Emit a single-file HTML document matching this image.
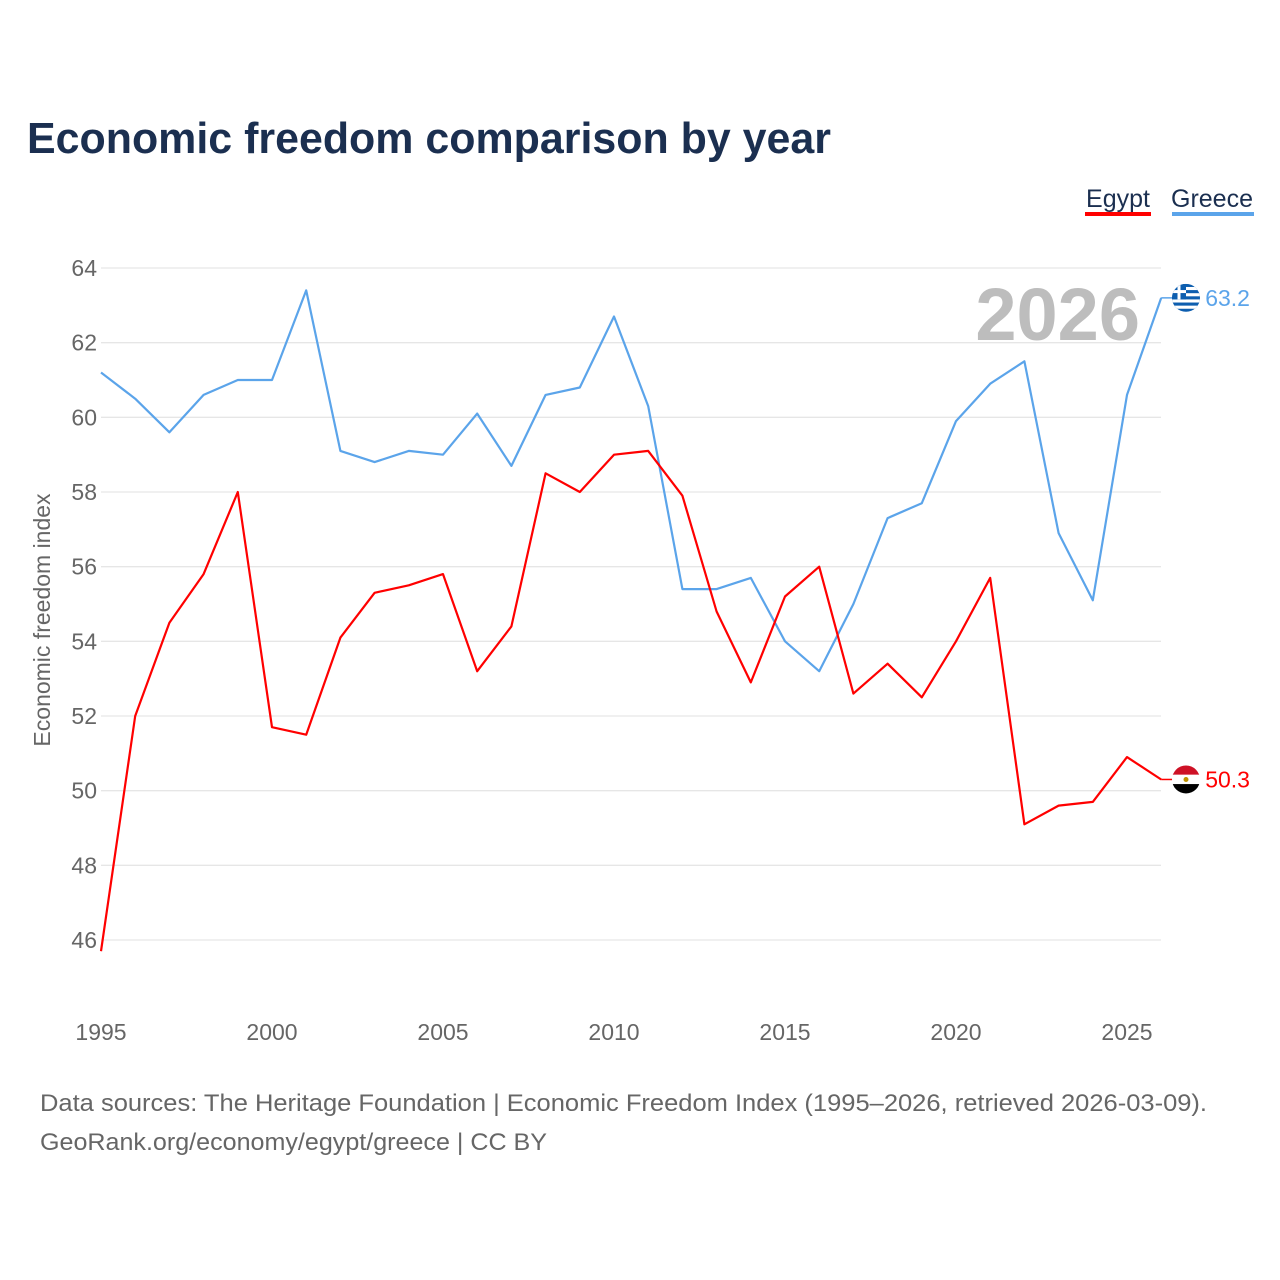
<!DOCTYPE html>
<html><head><meta charset="utf-8">
<style>
body{margin:0;background:#fff;font-family:"Liberation Sans",sans-serif;}
svg{display:block}
</style></head>
<body>
<svg id="chart" width="1280" height="1280" viewBox="0 0 1280 1280" xmlns="http://www.w3.org/2000/svg">
<defs>
<clipPath id="cg"><circle cx="1186" cy="298" r="14"/></clipPath>
<clipPath id="ce"><circle cx="1186" cy="779" r="14"/></clipPath>
</defs>
<text x="27" y="153" font-size="44" font-weight="bold" fill="#1b2f50" textLength="804" lengthAdjust="spacingAndGlyphs">Economic freedom comparison by year</text>
<g>
<g><text x="1118" y="207" font-size="25" fill="#1b2f50" text-anchor="middle">Egypt</text><rect x="1085" y="212" width="66" height="4" fill="#ff0000"/></g>
<g><text x="1212" y="207" font-size="25" fill="#1b2f50" text-anchor="middle">Greece</text><rect x="1172" y="212" width="82" height="4" fill="#5ba4ea"/></g>
</g>
<g id="grid"></g>
<text x="1140" y="340" font-size="74" font-weight="bold" fill="#bdbdbd" text-anchor="end">2026</text>
<g id="series"></g>
<text transform="translate(50,620) rotate(-90)" font-size="23" fill="#666" text-anchor="middle">Economic freedom index</text>
<text x="40" y="1111" font-size="24" fill="#666" textLength="1167" lengthAdjust="spacingAndGlyphs">Data sources: The Heritage Foundation | Economic Freedom Index (1995–2026, retrieved 2026-03-09).</text>
<text x="40" y="1150" font-size="24" fill="#666" textLength="507" lengthAdjust="spacingAndGlyphs">GeoRank.org/economy/egypt/greece | CC BY</text>
</svg>
<script>
const years=[1995,1996,1997,1998,1999,2000,2001,2002,2003,2004,2005,2006,2007,2008,2009,2010,2011,2012,2013,2014,2015,2016,2017,2018,2019,2020,2021,2022,2023,2024,2025,2026];
const egypt=[45.7,52.0,54.5,55.8,58.0,51.7,51.5,54.1,55.3,55.5,55.8,53.2,54.4,58.5,58.0,59.0,59.1,57.9,54.8,52.9,55.2,56.0,52.6,53.4,52.5,54.0,55.7,49.1,49.6,49.7,50.9,50.3];
const greece=[61.2,60.5,59.6,60.6,61.0,61.0,63.4,59.1,58.8,59.1,59.0,60.1,58.7,60.6,60.8,62.7,60.3,55.4,55.4,55.7,54.0,53.2,55.0,57.3,57.7,59.9,60.9,61.5,56.9,55.1,60.6,63.2];
const yTicks=[46,48,50,52,54,56,58,60,62,64];
const xTicks=[1995,2000,2005,2010,2015,2020,2025];
const NS="http://www.w3.org/2000/svg";
function x(v){return 101+(v-1995)*(1127-101)/30;}
function y(v){return 268+(64-v)*(940-268)/18;}
function mk(t,a,p){const e=document.createElementNS(NS,t);for(const k in a)e.setAttribute(k,a[k]);p.appendChild(e);return e;}
const grid=document.getElementById('grid');
yTicks.forEach(t=>{
 const l=mk('line',{x1:101,x2:1161,y1:y(t),y2:y(t),stroke:'#e6e6e6','stroke-width':1.3},grid);
 
 
 const tx=mk('text',{x:97,y:y(t)+8,'font-size':23,fill:'#666','text-anchor':'end'},grid);
 tx.textContent=t;
 
 
});
xTicks.forEach(t=>{
 const tx=mk('text',{x:x(t),y:1040,'font-size':23,fill:'#666','text-anchor':'middle'},grid);
 tx.textContent=t;
 
 
});
const s=document.getElementById('series');
function line(vals,color,name){
 const d=vals.map((v,i)=>(i?'L':'M')+x(years[i]).toFixed(1)+','+y(v).toFixed(1)).join('');
 const p=mk('path',{d:d,fill:'none',stroke:color,'stroke-width':2.2,'stroke-linejoin':'round'},s);
 
 
 const lv=vals[vals.length-1],lx=x(years[years.length-1]),ly=y(lv);
 mk('line',{x1:lx,x2:lx+12,y1:ly,y2:ly,stroke:color,'stroke-width':1.5},s);
 const g=mk('g',{transform:'translate(0,'+(ly-(name==='greece'?298:779))+')'},s);
 
 
 const t=mk('text',{x:lx+44,y:ly+8,'font-size':23,fill:color},s);
 t.textContent=lv.toFixed(1);
 
 
 return g;
}
const ge=line(greece,'#5ba4ea','greece');
const eg=line(egypt,'#ff0000','egypt');
const ex=1186,ey=779;
const ec=mk('g',{'clip-path':'url(#ce)'},eg);
mk('rect',{x:ex-14,y:ey-14,width:28,height:9.3,fill:'#ce1126'},ec);
mk('rect',{x:ex-14,y:ey-4.7,width:28,height:9.3,fill:'#fff'},ec);
mk('rect',{x:ex-14,y:ey+4.6,width:28,height:9.4,fill:'#000'},ec);
mk('circle',{cx:ex,cy:ey,r:2.5,fill:'#c09300'},ec);
const gx=1186,gy=298;
const gc=mk('g',{'clip-path':'url(#cg)'},ge);
mk('rect',{x:gx-14,y:gy-14,width:28,height:28,fill:'#0d5eaf'},gc);
for(let i=0;i<9;i++){if(i%2)mk('rect',{x:gx-14,y:gy-14+i*3.11,width:28,height:3.11,fill:'#fff'},gc);}
mk('rect',{x:gx-14,y:gy-14,width:14,height:15.5,fill:'#0d5eaf'},gc);
mk('rect',{x:gx-14,y:gy-7.8,width:14,height:3,fill:'#fff'},gc);
mk('rect',{x:gx-8.5,y:gy-14,width:3,height:15.5,fill:'#fff'},gc);
</script>
</body></html>
